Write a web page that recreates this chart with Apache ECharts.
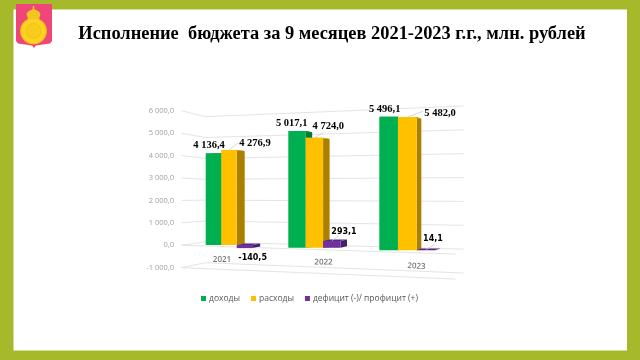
<!DOCTYPE html>
<html><head><meta charset="utf-8">
<style>html,body{margin:0;padding:0;background:#fff}#c{width:640px;height:360px}</style>
<script src="https://cdn.jsdelivr.net/npm/echarts@6/dist/echarts.min.js"></script>
</head><body><div id="c"></div>
<script>
const categories = ['2021', '2022', '2023'];
const incomes = [4136.4, 5017.1, 5496.1];
const expenses = [4276.9, 4724.0, 5482.0];
const balance = [-140.5, 293.1, 14.1];
const axisTicks = [-1000, 0, 1000, 2000, 3000, 4000, 5000, 6000];
const seriesNames = ['доходы', 'расходы', 'дефицит (-)/ профицит (+)'];
const titleText = 'Исполнение  бюджета за 9 месяцев 2021-2023 г.г., млн. рублей';

const values = [incomes, expenses, balance];
const frontColors = ['#00B050', '#FFC000', '#7030A0'];
const sideColors = ['#007A38', '#AB8000', '#47206A'];
const topColors = ['#009044', '#D9A300', '#5A2685'];
const depth = [8, 6.5, 4.7];
const labelOffsets = [
  [[-4.4, -8.2], [-5.3, -7.6], [-3.9, -7.1]],
  [[26, -6.7], [13.9, -11.7], [32.7, -3.7]],
  [[8.2, 10.2], [12.2, -8.7], [7, -11.3]]
];
const leaders = [
  [null, null, null],
  [[9, -7], [9, -5], [16, -6]],
  [null, [6, -5], [9, -6]]
];
const barGrids = [
  {left: 205.7, width: 46.5, top: 111.8, height: 155.4},
  {left: 288.3, width: 52.2, top: 108, height: 163.1},
  {left: 379.3, width: 56, top: 104.5, height: 170.1}
];
const wallGrids = [
  {left: 181, width: 1, top: 110.7, height: 157},
  {left: 205, width: 1, top: 116.7, height: 146},
  {left: 463, width: 1, top: 106, height: 167},
  {left: 455, width: 1, top: 104, height: 175}
];
const catLabel = [
  {padding: [0, 14, 0, 0], rotate: 0, margin: -11},
  {padding: [0, 12, 0, 0], rotate: -1, margin: -9},
  {padding: [0, 8, 0, 0], rotate: -4, margin: -9}
];
function fmt(v) {
  const s = Math.abs(v).toFixed(1).split('.');
  return (v < 0 ? '-' : '') + s[0].replace(/\B(?=(\d{3})+$)/g, ' ') + ',' + s[1];
}
const chart = echarts.init(document.getElementById('c'));
const allGrids = barGrids.concat(wallGrids);
const xAxes = allGrids.map((g, i) => i < 3 ? {
  gridIndex: i, type: 'category', data: [categories[i]],
  axisLine: {show: false}, axisTick: {show: false},
  axisLabel: Object.assign({fontFamily: 'Open Sans', fontSize: 8, fontWeight: 600, color: '#777'}, catLabel[i])
} : {gridIndex: i, type: 'category', data: [''], show: false});
const yAxes = allGrids.map((g, i) => ({
  gridIndex: i, type: 'value', min: -1000, max: 6000, interval: 1000,
  show: i === 3, splitLine: {show: false}, axisLine: {show: false}, axisTick: {show: false},
  axisLabel: {margin: 7, fontFamily: 'Open Sans', fontSize: 7.5, color: '#a0a0a0', formatter: fmt}
}));
function wallRender(params, api) {
  const v = api.value(1);
  const at = k => chart.convertToPixel({gridIndex: k}, [0, v]);
  const A = at(3), B = at(4), C = at(5), D = at(6);
  const style = {stroke: '#E4E4E4', lineWidth: 1, fill: null};
  const children = [{type: 'polyline', shape: {points: [A, B, C]}, style}];
  if (v <= 0) children.push({type: 'polyline', shape: {points: [A, D]}, style});
  return {type: 'group', children};
}
function barRender(g, m) {
  return function (params, api) {
    const v = api.value(1);
    const c = api.coord([0, v]);
    const y0 = api.coord([0, 0])[1];
    const band = api.size([1, 0])[0];
    const w = band / 3;
    const x = c[0] - band / 2 + w * m;
    const yv = c[1];
    const d = depth[g];
    const back = m === 2 ? (y => y - 1.5) : (y => y0 - 0.7 - (y0 - y) * 0.982);
    const tx = x + w / 2, ty = yv;
    const off = labelOffsets[m][g];
    const serif = m < 2;
    const top = Math.min(y0, yv), bot = Math.max(y0, yv);
    const children = [
      {type: 'polygon', shape: {points: [[x + w, top], [x + w + d, back(top)], [x + w + d, back(bot)], [x + w, bot]]}, style: {fill: sideColors[m]}},
      {type: 'polygon', shape: {points: [[x, top], [x + d, back(top)], [x + w + d, back(top)], [x + w, top]]}, style: {fill: topColors[m]}},
      {type: 'rect', shape: {x: x, y: top, width: w, height: bot - top}, style: {fill: frontColors[m]}}
    ];
    const lead = leaders[m][g];
    if (lead) children.push({type: 'line', shape: {x1: tx, y1: ty, x2: tx + lead[0], y2: ty + lead[1]}, style: {stroke: '#C8C8C8', lineWidth: 0.7}});
    children.push({type: 'text', z2: 10, style: {
      text: fmt(v), x: tx + off[0], y: ty + off[1], align: 'center', verticalAlign: 'middle',
      fill: '#000', font: serif ? 'bold 10.5px "Liberation Serif"' : 'bold 8px "DejaVu Sans"'
    }});
    return {type: 'group', children};
  };
}
const series = [{
  type: 'custom', name: 'walls', xAxisIndex: 3, yAxisIndex: 3, z: 1, silent: true,
  clip: false, renderItem: wallRender, data: axisTicks.map(v => [0, v]), encode: {x: 0, y: 1}
}];
[0, 1, 2].forEach(g => {
  [0, 1, 2].forEach(m => {
    series.push({
      type: 'custom', name: seriesNames[m], xAxisIndex: g, yAxisIndex: g, z: 2 + g * 3 + m, clip: false,
      itemStyle: {color: frontColors[m]}, renderItem: barRender(g, m),
      data: [[0, values[m][g]]], encode: {x: 0, y: 1}
    });
  });
});
const B = '#A6B92A';
chart.setOption({
  animation: false,
  backgroundColor: '#fff',
  title: {text: titleText, left: 327, top: 20, textAlign: 'center',
    textStyle: {fontFamily: 'Liberation Serif', fontWeight: 'bold', fontSize: 18.4, color: '#000'}},
  grid: allGrids.map(g => Object.assign({containLabel: false}, g)),
  xAxis: xAxes, yAxis: yAxes,
  legend: {data: seriesNames, left: 201, top: 294, padding: 0, icon: 'rect', itemWidth: 5, itemHeight: 5, itemGap: 11,
    selectedMode: false, textStyle: {fontFamily: 'Open Sans', fontSize: 8.5, color: '#595959', padding: [0, 0, 0, -2]}},
  graphic: [
    {type: 'rect', z: 0, shape: {x: 0, y: 0, width: 640, height: 9.5}, style: {fill: B}},
    {type: 'rect', z: 0, shape: {x: 0, y: 350.5, width: 640, height: 10}, style: {fill: B}},
    {type: 'rect', z: 0, shape: {x: 0, y: 0, width: 13.5, height: 360}, style: {fill: B}},
    {type: 'rect', z: 0, shape: {x: 627, y: 0, width: 13, height: 360}, style: {fill: B}},
    {type: 'polygon', z: 1, shape: {points: [[16, 4], [52, 4], [52, 41], [50, 43.5], [36, 45.5], [34, 48], [32, 45.5], [18, 43.5], [16, 41]]}, style: {fill: '#EF4679'}},
    {type: 'circle', z: 2, shape: {cx: 33.5, cy: 31, r: 13}, style: {fill: '#FFD21F', stroke: '#F2BB12', lineWidth: 1}},
    {type: 'circle', z: 2, shape: {cx: 33.5, cy: 31, r: 7.5}, style: {fill: '#F8CC1C', stroke: '#EDBB16', lineWidth: 0.7}},
    {type: 'polygon', z: 2, shape: {points: [[28, 19], [26.5, 14], [28, 11.5], [31, 10], [33.5, 9], [36, 10], [39, 11.5], [40.5, 14], [39, 19]]}, style: {fill: '#F2C61E'}},
    {type: 'rect', z: 2, shape: {x: 32.7, y: 6, width: 1.6, height: 4}, style: {fill: '#F2C61E'}}
  ],
  series
});
</script></body></html>
